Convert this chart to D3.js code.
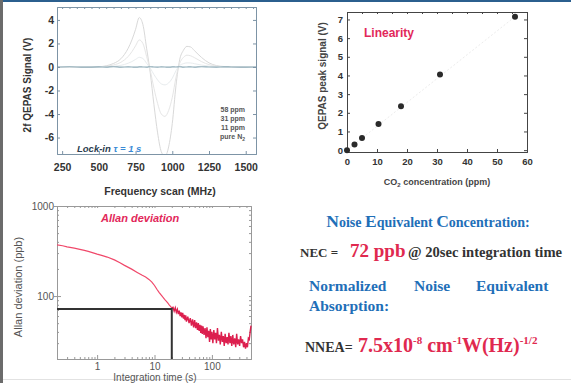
<!DOCTYPE html>
<html>
<head>
<meta charset="utf-8">
<script src="https://cdn.jsdelivr.net/npm/d3@7"></script>
<style>
body { margin: 0; background: #fff; }
svg { display: block; }
.ax path, .ax line { stroke: #7d94a6; }
.ax2 path, .ax2 line { stroke: #444; }
.ax3 path, .ax3 line { stroke: #999; }
</style>
</head>
<body>
<script>
var width = 571,
    height = 383;

// ---- chart 1: 2f QEPAS scan ----
var freqScan = [215, 300, 400, 500, 550, 600, 650, 700, 725, 750, 775, 800, 825, 850, 875, 900, 925, 950, 975, 1000, 1025, 1050, 1075, 1100, 1125, 1150, 1200, 1250, 1300, 1350, 1400, 1500, 1570];
var sig58 = [0, 0, 0, 0.02, 0.1, 0.3, 0.7, 1.6, 2.3, 3.2, 4.2, 3.6, 1.6, -0.5, -3.2, -5.6, -7.2, -7.6, -6.8, -4.8, -1.6, 0.6, 1.4, 1.75, 1.7, 1.4, 0.8, 0.35, 0.12, 0.04, 0.02, 0, 0];
var sig31 = [0, 0, 0, 0.01, 0.05, 0.17, 0.4, 0.9, 1.3, 1.8, 2.3, 2.0, 0.9, -0.3, -1.8, -3.1, -4.0, -4.2, -3.7, -2.6, -0.9, 0.3, 0.8, 1.0, 0.95, 0.8, 0.45, 0.2, 0.07, 0.02, 0.01, 0, 0];
var sig11 = [0, 0, 0, 0, 0.02, 0.06, 0.14, 0.32, 0.46, 0.64, 0.82, 0.72, 0.32, -0.1, -0.64, -1.1, -1.44, -1.52, -1.36, -0.96, -0.32, 0.12, 0.28, 0.35, 0.34, 0.28, 0.16, 0.07, 0.02, 0.01, 0, 0, 0];
var sigN2 = [0, 0.02, -0.02, 0.01, -0.01, 0.02, -0.01, 0.01, 0, -0.02, 0.01, 0, -0.01, 0.02, 0, -0.01, 0.01, 0, -0.02, 0.01, 0, 0.02, -0.01, 0, 0.01, -0.01, 0.02, 0, -0.01, 0.01, 0, -0.01, 0];
var scanTicks = [250, 500, 750, 1000, 1250, 1500];
var signalTicks = [-6, -4, -2, 0, 2, 4];
var legendLabels = ["58 ppm", "31 ppm", "11 ppm", "pure N"];

// ---- chart 2: linearity ----
var co2Conc = [0, 2.5, 5, 10.5, 18, 31, 56];
var peakSignal = [0, 0.3, 0.65, 1.4, 2.35, 4.05, 7.15];
var concTicks = [0, 10, 20, 30, 40, 50, 60];
var peakTicks = [0, 1, 2, 3, 4, 5, 6, 7];

// ---- chart 3: Allan deviation ----
var allanTau = [0.2, 0.25, 0.3, 0.4, 0.5, 0.6, 0.7, 0.8, 1, 1.2, 1.5, 2, 2.5, 3, 4, 5, 6, 7, 8, 9, 10, 11, 12, 13, 14, 15, 16, 17, 18, 19, 20,
  21, 22, 23, 24, 25, 26, 27, 28, 29, 30, 31, 32, 33, 34, 35, 36, 38, 40, 42, 44, 46, 48, 50, 52, 54, 56, 58, 60, 62, 64, 66, 68, 70,
  73, 76, 79, 82, 85, 88, 91, 94, 97, 100, 104, 108, 112, 116, 120, 125, 130, 135, 140, 146, 152, 158, 164, 170, 177, 184, 191, 198,
  206, 214, 222, 231, 240, 250, 260, 270, 281, 292, 304, 316, 329, 342, 356, 370, 385, 400, 416, 432, 448, 464, 480];
var allanDev = [370, 362, 352, 340, 330, 321, 313, 305, 292, 283, 271, 252, 234, 219, 199, 183, 171, 163, 153, 143, 131, 119, 110, 103, 97, 92, 88, 84, 80, 77, 74,
  75, 68, 74, 66, 71, 63, 69, 60, 66, 58, 65, 56, 62, 54, 61, 52, 59, 50, 57, 47, 55, 45, 54, 44, 51, 42, 50, 41, 48, 39, 47, 38, 46,
  37, 44, 34, 45, 35, 41, 31, 43, 33, 40, 30, 42, 33, 39, 30, 44, 32, 37, 29, 40, 31, 36, 28, 38, 30, 35, 29, 39,
  30, 36, 28, 37, 29, 34, 27, 38, 29, 33, 28, 36, 30, 33, 27, 31, 26, 30, 27, 34, 33, 40, 47];
var tauTicks = [1, 10, 100];
var devTicks = [100, 1000];
var necTau = 20,
    necValue = 72;

var svg = d3.select("body")
            .append("svg")
            .attr("width", width)
            .attr("height", height)
            .style("font-family", "Arial, 'Liberation Sans', sans-serif");

svg.append("rect").attr("width", width).attr("height", height).attr("fill", "#fff");
svg.append("rect").attr("x", 0).attr("y", 0).attr("width", width).attr("height", 2).attr("fill", "#2b5f8e");
svg.append("rect").attr("x", 0).attr("y", 0).attr("width", 3).attr("height", height).attr("fill", "#6b6b6b");
svg.append("rect").attr("x", 3).attr("y", 379).attr("width", width - 3).attr("height", 1).attr("fill", "#e2e2e2");

var fmt = function(d) { return String(d); };

//---------------- chart 1
var x1 = d3.scaleLinear().domain([215, 1570]).range([57, 256]);
var y1 = d3.scaleLinear().domain([-7.4, 5.1]).range([154, 7]);

svg.append("clipPath").attr("id", "clip1")
   .append("rect").attr("x", 57).attr("y", 7).attr("width", 199).attr("height", 147);

var line1 = d3.line()
   .x(function(d, i) { return x1(freqScan[i]); })
   .y(function(d) { return y1(d); })
   .curve(d3.curveMonotoneX);

var seriesColors = ["#d9d9d9", "#e6e6e6", "#e8ecee", "#8eabb7"];
[sig58, sig31, sig11, sigN2].forEach(function(s, k) {
  svg.append("path")
     .attr("clip-path", "url(#clip1)")
     .attr("d", line1(s))
     .attr("fill", "none")
     .attr("stroke", seriesColors[k])
     .attr("stroke-width", k == 3 ? 1.2 : 1);
});

svg.append("g").attr("class", "ax")
   .attr("transform", "translate(0,154)")
   .call(d3.axisBottom(x1).tickValues(scanTicks).tickSize(-3).tickPadding(10).tickFormat(fmt))
   .call(function(g) {
     g.selectAll("text").attr("font-size", "10.5px").attr("font-weight", "bold").attr("fill", "#333");
   });
svg.append("g").attr("class", "ax")
   .attr("transform", "translate(0,7)")
   .call(d3.axisTop(x1).ticks(27).tickSize(-2).tickFormat(""));
svg.append("g").attr("class", "ax")
   .attr("transform", "translate(57,0)")
   .call(d3.axisLeft(y1).tickValues(signalTicks).tickSize(-3).tickPadding(3).tickFormat(fmt))
   .call(function(g) {
     g.selectAll("text").attr("font-size", "10.5px").attr("font-weight", "bold").attr("fill", "#333");
   });
svg.append("g").attr("class", "ax")
   .attr("transform", "translate(256,0)")
   .call(d3.axisRight(y1).tickValues(signalTicks).tickSize(-3).tickFormat(""));

svg.append("text")
   .attr("x", 160).attr("y", 195)
   .attr("text-anchor", "middle")
   .attr("font-size", "10.5px").attr("font-weight", "bold").attr("fill", "#333")
   .text("Frequency scan (MHz)");
svg.append("text")
   .attr("transform", "translate(31,85) rotate(-90)")
   .attr("text-anchor", "middle")
   .attr("font-size", "10px").attr("font-weight", "bold").attr("fill", "#333")
   .text("2f QEPAS Signal (V)");

var lock = svg.append("text")
   .attr("x", 77).attr("y", 152)
   .attr("font-size", "9.5px").attr("font-weight", "bold").attr("font-style", "italic");
lock.append("tspan").attr("fill", "#2c3e50").text("Lock-in ");
lock.append("tspan").attr("fill", "#3a8ad6").text("\u03c4 = 1 s");

svg.selectAll(".leg")
   .data(legendLabels)
   .enter()
   .append("text")
   .attr("class", "leg")
   .attr("x", 245)
   .attr("y", function(d, i) { return 112 + i * 9; })
   .attr("text-anchor", "end")
   .attr("font-size", "7px").attr("font-weight", "bold").attr("fill", "#555")
   .text(function(d) { return d; })
   .filter(function(d, i) { return i == 3; })
   .append("tspan").attr("font-size", "5px").attr("dy", 2).text("2");

//---------------- chart 2
var x2 = d3.scaleLinear().domain([0, 60]).range([347, 527]);
var y2 = d3.scaleLinear().domain([-0.1, 7.4]).range([152, 12]);

svg.append("line")
   .attr("x1", x2(0)).attr("y1", y2(0))
   .attr("x2", x2(56)).attr("y2", y2(7.15))
   .attr("stroke", "#ececec").attr("stroke-dasharray", "2,2");

svg.append("g").attr("class", "ax2")
   .attr("transform", "translate(0,152)")
   .call(d3.axisBottom(x2).tickValues(concTicks).tickSize(-3).tickPadding(6))
   .call(function(g) {
     g.selectAll("text").attr("font-size", "9.5px").attr("font-weight", "bold").attr("fill", "#333");
   });
svg.append("g").attr("class", "ax2")
   .attr("transform", "translate(0,12)")
   .call(d3.axisTop(x2).ticks(12).tickSize(-2).tickFormat(""))
   .call(function(g) { g.select(".domain").attr("stroke", "#ccc"); g.selectAll("line").attr("stroke", "#999"); });
svg.append("g").attr("class", "ax2")
   .attr("transform", "translate(347,0)")
   .call(d3.axisLeft(y2).tickValues(peakTicks).tickSize(-3).tickPadding(4))
   .call(function(g) {
     g.selectAll("text").attr("font-size", "9.5px").attr("font-weight", "bold").attr("fill", "#333");
   });
svg.append("g").attr("class", "ax2")
   .attr("transform", "translate(527,0)")
   .call(d3.axisRight(y2).tickValues(peakTicks).tickSize(-3).tickFormat(""));

svg.selectAll(".pt")
   .data(co2Conc)
   .enter()
   .append("circle")
   .attr("class", "pt")
   .attr("cx", function(d) { return x2(d); })
   .attr("cy", function(d, i) { return y2(peakSignal[i]); })
   .attr("r", 3)
   .attr("fill", "#2a2a2a");

svg.append("text")
   .attr("x", 364).attr("y", 37)
   .attr("font-size", "12px").attr("font-weight", "bold").attr("fill", "#e2285a")
   .text("Linearity");

var co2lab = svg.append("text")
   .attr("x", 437).attr("y", 185)
   .attr("text-anchor", "middle")
   .attr("font-size", "9px").attr("font-weight", "bold").attr("fill", "#444");
co2lab.append("tspan").text("CO");
co2lab.append("tspan").attr("font-size", "6px").attr("dy", 2).text("2");
co2lab.append("tspan").attr("dy", -2).text(" concentration (ppm)");

svg.append("text")
   .attr("transform", "translate(326,76) rotate(-90)")
   .attr("text-anchor", "middle")
   .attr("font-size", "10px").attr("font-weight", "bold").attr("fill", "#444")
   .text("QEPAS peak signal (V)");

//---------------- chart 3
var x3 = d3.scaleLog().domain([0.2, 480]).range([57, 251]);
var y3 = d3.scaleLog().domain([20, 1000]).range([359, 206]);

svg.append("g").attr("class", "ax3")
   .attr("transform", "translate(0,359)")
   .call(d3.axisBottom(x3).ticks(10, "").tickSize(-2).tickPadding(4))
   .call(function(g) {
     g.selectAll(".tick text").text("");
     g.selectAll(".tick").filter(function(d) { return tauTicks.indexOf(d) >= 0; })
      .select("line").attr("y2", -4);
     g.selectAll(".tick").filter(function(d) { return tauTicks.indexOf(d) >= 0; })
      .select("text").text(function(d) { return d; })
      .attr("font-size", "10px").attr("fill", "#555");
   });
svg.append("g").attr("class", "ax3")
   .attr("transform", "translate(0,206)")
   .call(d3.axisTop(x3).ticks(10, "").tickSize(-2).tickFormat(""));
svg.append("g").attr("class", "ax3")
   .attr("transform", "translate(57,0)")
   .call(d3.axisLeft(y3).ticks(10, "").tickSize(-2).tickPadding(3))
   .call(function(g) {
     g.select(".domain").attr("stroke", "#555");
     g.selectAll(".tick text").text("");
     g.selectAll(".tick").filter(function(d) { return devTicks.indexOf(d) >= 0; })
      .select("line").attr("x2", 4).attr("x1", -3);
     g.selectAll(".tick").filter(function(d) { return devTicks.indexOf(d) >= 0; })
      .select("text").text(function(d) { return d; })
      .attr("font-size", "10px").attr("fill", "#555");
   });
svg.append("g").attr("class", "ax3")
   .attr("transform", "translate(251,0)")
   .call(d3.axisRight(y3).ticks(10, "").tickSize(-2).tickFormat(""));

var line3 = d3.line()
   .x(function(d) { return x3(d); })
   .y(function(d, i) { return y3(allanDev[i]); });

svg.append("path")
   .attr("d", line3(allanTau.slice(0, 31)))
   .attr("fill", "none").attr("stroke", "#f0486a").attr("stroke-width", 1.2);
svg.append("path")
   .attr("d", d3.line()
      .x(function(d) { return x3(d); })
      .y(function(d, i) { return y3(allanDev[i + 30]); })(allanTau.slice(30)))
   .attr("fill", "none").attr("stroke", "#dc1f4e").attr("stroke-width", 1.4);

svg.append("path")
   .attr("d", "M" + x3(0.2) + "," + y3(necValue) + "H" + x3(necTau) + "V" + y3(20))
   .attr("fill", "none").attr("stroke", "#333").attr("stroke-width", 2);

svg.append("text")
   .attr("x", 101).attr("y", 222)
   .attr("font-size", "11px").attr("font-weight", "bold").attr("font-style", "italic").attr("fill", "#e2285a")
   .text("Allan deviation");
svg.append("text")
   .attr("transform", "translate(22,287) rotate(-90)")
   .attr("text-anchor", "middle")
   .attr("font-size", "11px").attr("fill", "#555")
   .text("Allan deviation (ppb)");
svg.append("text")
   .attr("x", 155).attr("y", 380.5)
   .attr("text-anchor", "middle")
   .attr("font-size", "10px").attr("fill", "#555")
   .text("Integration time (s)");

//---------------- text block
var serif = "'Liberation Serif', 'Times New Roman', serif";
var blue = "#1f6fb8",
    red = "#e0294f",
    dark = "#333";

var t1 = svg.append("text")
   .attr("x", 428).attr("y", 227).attr("text-anchor", "middle")
   .attr("font-family", serif).attr("font-weight", "bold").attr("fill", blue).attr("font-size", "14px");
[["N", 17.5], ["oise ", 14], ["E", 17.5], ["quivalent ", 14], ["C", 17.5], ["oncentration:", 14]].forEach(function(p) {
  t1.append("tspan").attr("font-size", p[1] + "px").text(p[0]);
});

var t2 = svg.append("text")
   .attr("x", 300).attr("y", 257)
   .attr("font-family", serif).attr("font-weight", "bold");
t2.append("tspan").attr("fill", dark).attr("font-size", "13px").text("NEC = ");
t2.append("tspan").attr("fill", red).attr("font-size", "19px").attr("x", 350).text("72 ppb");
svg.append("text")
   .attr("x", 408).attr("y", 257)
   .attr("font-family", serif).attr("font-weight", "bold").attr("fill", dark).attr("font-size", "14px")
   .attr("textLength", 154).attr("lengthAdjust", "spacingAndGlyphs")
   .text("@ 20sec integration time");

[["Normalized", 309], ["Noise", 414], ["Equivalent", 476]].forEach(function(p) {
  svg.append("text")
     .attr("x", p[1]).attr("y", 291)
     .attr("font-family", serif).attr("font-weight", "bold").attr("font-size", "15.5px").attr("fill", blue)
     .text(p[0]);
});
svg.append("text")
   .attr("x", 309).attr("y", 311)
   .attr("font-family", serif).attr("font-weight", "bold").attr("font-size", "15.5px").attr("fill", blue)
   .text("Absorption:");

var t3 = svg.append("text")
   .attr("x", 305).attr("y", 352)
   .attr("font-family", serif).attr("font-weight", "bold");
t3.append("tspan").attr("fill", dark).attr("font-size", "14px").text("NNEA=");
t3.append("tspan").attr("fill", red).attr("font-size", "20px").attr("x", 358).text("7.5x10");
t3.append("tspan").attr("fill", red).attr("font-size", "11px").attr("dy", -8).text("-8");
t3.append("tspan").attr("fill", red).attr("font-size", "20px").attr("dy", 8).text(" cm");
t3.append("tspan").attr("fill", red).attr("font-size", "11px").attr("dy", -8).text("-1");
t3.append("tspan").attr("fill", red).attr("font-size", "20px").attr("dy", 8).text("W(Hz)");
t3.append("tspan").attr("fill", red).attr("font-size", "11px").attr("dy", -8).text("-1/2");
</script>
</body>
</html>
